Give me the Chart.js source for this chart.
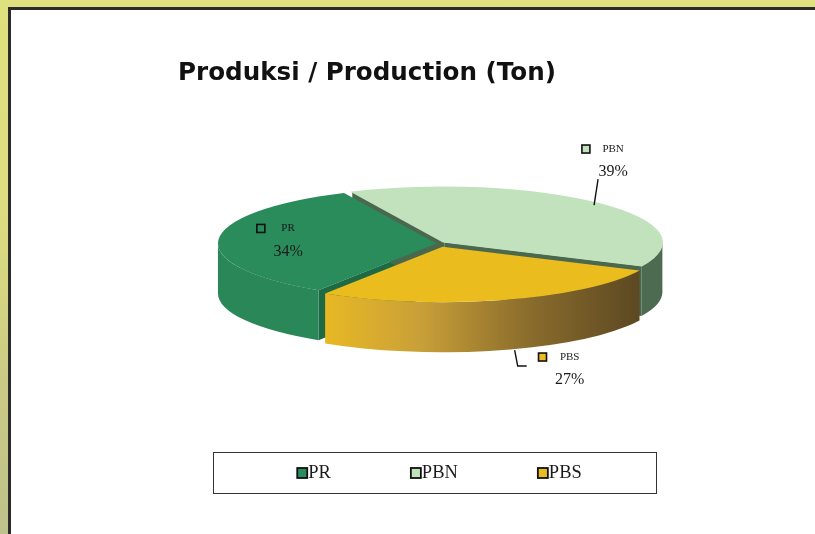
<!DOCTYPE html>
<html>
<head>
<meta charset="utf-8">
<script src="https://cdn.jsdelivr.net/npm/chart.js@4.4.1/dist/chart.umd.min.js"></script>
<style>
  html, body { margin: 0; padding: 0; }
  body {
    width: 815px; height: 534px; overflow: hidden; position: relative;
    background: linear-gradient(180deg, #dfe17e 0%, #dcdd80 40%, #c9c885 75%, #bec18b 100%);
  }
  .panel {
    position: absolute; left: 8px; top: 7px; right: -10px; bottom: -10px;
    background: #fff; border-left: 3px solid #2b2b2b; border-top: 3px solid #2b2b2b;
  }
  canvas { position: absolute; left: 0; top: 0; }
</style>
</head>
<body>
<div class="panel"></div>
<canvas id="pie" width="815" height="534"></canvas>
<script>
// data
const categories = ["PR", "PBN", "PBS"];
const shares = [34, 39, 27];
const percentLabels = ["34%", "39%", "27%"];

// colours
const topColors = ["#2a8b5b", "#c2e1bd", "#ebbc1e"];
const wallColors = ["#2a8858", "#4d6b50", null]; // PBS wall uses a gradient
const faceColors = ["#1e6a45", "#4a684d", "#8a6c2a"];

// 3d geometry of the drawn ellipse
const TX = 439, TY = 243.5, RX = 218, RY = 55.5, DEPTH = 50;

function frontParts(a0, a1) {
  const TAU = Math.PI * 2;
  let s = a0 % TAU; if (s < 0) s += TAU;
  const e = s + (a1 - a0);
  const parts = [];
  [0, TAU].forEach(k => {
    const lo = Math.max(s, k), hi = Math.min(e, k + Math.PI);
    if (hi > lo) parts.push([lo, hi]);
  });
  return parts;
}

const pie3d = {
  id: 'pie3d',
  geom(chart) {
    const arcs = chart.getDatasetMeta(0).data;
    const R = arcs[0].outerRadius;
    return { arcs, sx: RX / R, sy: RY / R };
  },
  // same shift that ArcElement.draw applies for options.offset
  centre(arc, g) {
    const off = (arc.options.offset || 0) / 4;
    const circ = arc.endAngle - arc.startAngle;
    const fix = 1 - Math.sin(Math.min(Math.PI, circ));
    const t = off * (1 + fix);
    const half = (arc.startAngle + arc.endAngle) / 2;
    return { x: TX + Math.cos(half) * t * g.sx, y: TY + Math.sin(half) * t * g.sy };
  },
  beforeDatasetsDraw(chart) {
    const ctx = chart.ctx;
    const g = this.geom(chart);

    // cut faces
    g.arcs.forEach((arc, i) => {
      const c = this.centre(arc, g);
      [[arc.startAngle, Math.cos(arc.startAngle) < 0], [arc.endAngle, Math.cos(arc.endAngle) > 0]].forEach(([ang, vis]) => {
        if (!vis) return;
        const px = c.x + RX * Math.cos(ang), py = c.y + RY * Math.sin(ang);
        ctx.beginPath();
        ctx.moveTo(c.x, c.y);
        ctx.lineTo(px, py);
        ctx.lineTo(px, py + DEPTH);
        ctx.lineTo(c.x, c.y + DEPTH);
        ctx.closePath();
        ctx.fillStyle = faceColors[i];
        ctx.fill();
      });
    });

    // outer walls
    g.arcs.forEach((arc, i) => {
      const c = this.centre(arc, g);
      frontParts(arc.startAngle, arc.endAngle).forEach(([lo, hi]) => {
        ctx.beginPath();
        ctx.ellipse(c.x, c.y, RX, RY, 0, lo, hi);
        ctx.lineTo(c.x + RX * Math.cos(hi), c.y + RY * Math.sin(hi) + DEPTH);
        ctx.ellipse(c.x, c.y + DEPTH, RX, RY, 0, hi, lo, true);
        ctx.closePath();
        if (wallColors[i]) {
          ctx.fillStyle = wallColors[i];
        } else {
          const x0 = c.x + RX * Math.cos(hi), x1 = c.x + RX * Math.cos(lo);
          const grad = ctx.createLinearGradient(x0, 0, x1, 0);
          grad.addColorStop(0, '#e8b824');
          grad.addColorStop(0.3, '#c9a038');
          grad.addColorStop(0.65, '#8a6c2c');
          grad.addColorStop(1, '#5c4822');
          ctx.fillStyle = grad;
        }
        ctx.fill();
      });
    });

    // flatten the top faces drawn by chart.js
    const a = g.arcs[0];
    ctx.save();
    ctx.translate(TX, TY);
    ctx.scale(g.sx, g.sy);
    ctx.translate(-a.x, -a.y);
  },
  afterDatasetsDraw(chart, args, opts) {
    const ctx = chart.ctx;
    ctx.restore();
    const g = this.geom(chart);

    g.arcs.forEach((arc, i) => {
      const st = opts.labels[i];
      const c = this.centre(arc, g);
      const mid = (arc.startAngle + arc.endAngle) / 2;
      let bx, by;
      if (st.mode === 'inside') {
        bx = c.x + RX * st.r * Math.cos(mid) + st.dx;
        by = c.y + RY * st.r * Math.sin(mid) + st.dy;
      } else {
        const ax = c.x + RX * Math.cos(mid);
        const ay = c.y + RY * Math.sin(mid) + (st.mode === 'bottom' ? DEPTH : 0);
        ctx.beginPath();
        st.leader.forEach((p, k) => k ? ctx.lineTo(ax + p[0], ay + p[1]) : ctx.moveTo(ax + p[0], ay + p[1]));
        ctx.strokeStyle = '#111';
        ctx.lineWidth = 1.4;
        ctx.stroke();
        const last = st.leader[st.leader.length - 1];
        bx = ax + last[0] + st.dx;
        by = ay + last[1] + st.dy;
      }
      const y1 = by - 11.5, y2 = by + 11.5;
      ctx.fillStyle = '#1a1a1a';
      ctx.textAlign = 'center';
      ctx.textBaseline = 'middle';
      ctx.font = '11px "Liberation Serif"';
      ctx.fillText(categories[i], bx, y1);
      ctx.font = '16px "Liberation Serif"';
      ctx.fillText(percentLabels[i], bx, y2);
      const w = ctx.measureText(percentLabels[i]).width;
      const kx = bx - w / 2 - 8.5 - 8;
      ctx.fillStyle = topColors[i];
      ctx.fillRect(kx, y1 - 4, 8, 8);
      ctx.strokeStyle = '#111';
      ctx.lineWidth = 1.6;
      ctx.strokeRect(kx, y1 - 4, 8, 8);
    });

    // legend box
    const L = opts.legend;
    ctx.fillStyle = '#fff';
    ctx.fillRect(L.x, L.y, L.w, L.h);
    ctx.strokeStyle = '#333';
    ctx.lineWidth = 1;
    ctx.strokeRect(L.x + 0.5, L.y + 0.5, L.w, L.h);
    ctx.font = '18.5px "Liberation Serif"';
    ctx.textAlign = 'left';
    ctx.textBaseline = 'middle';
    const widths = categories.map(t => 11 + ctx.measureText(t).width);
    const total = widths.reduce((s, v) => s + v, 0) + L.gap * (categories.length - 1);
    let x = L.x + L.w / 2 - total / 2 + 5;
    const cy = L.y + L.h / 2;
    categories.forEach((t, i) => {
      ctx.fillStyle = topColors[i];
      ctx.fillRect(x, cy - 4.5, 10, 10);
      ctx.strokeStyle = '#111';
      ctx.lineWidth = 1.8;
      ctx.strokeRect(x, cy - 4.5, 10, 10);
      ctx.fillStyle = '#1a1a1a';
      ctx.fillText(t, x + 11, cy + 1);
      x += widths[i] + L.gap;
    });
  }
};

new Chart(document.getElementById('pie'), {
  type: 'pie',
  data: {
    labels: categories,
    datasets: [{
      data: shares,
      backgroundColor: topColors,
      borderWidth: 0,
      offset: [9, 19, 44],
      clip: false
    }]
  },
  options: {
    responsive: false,
    animation: false,
    rotation: 212.6,
    layout: { padding: { left: 178, right: 20, top: 0, bottom: 20 } },
    events: [],
    plugins: {
      legend: { display: false },
      tooltip: { enabled: false },
      title: {
        display: true,
        text: 'Produksi / Production (Ton)',
        align: 'start',
        color: '#111',
        font: { family: 'DejaVu Sans', size: 24.6, weight: 'bold' },
        padding: { top: 59, bottom: 10 }
      },
      pie3d: {
        labels: [
          { mode: 'inside', r: 0.68, dx: 0, dy: -1 },
          { mode: 'top', leader: [[-5, 2], [-1, -24]], dx: 15, dy: -18.5 },
          { mode: 'bottom', leader: [[12, 0], [15, 16], [24, 16]], dx: 43, dy: 2.5 }
        ],
        legend: { x: 213, y: 452, w: 443, h: 41, gap: 80 }
      }
    }
  },
  plugins: [pie3d]
});
</script>
</body>
</html>
